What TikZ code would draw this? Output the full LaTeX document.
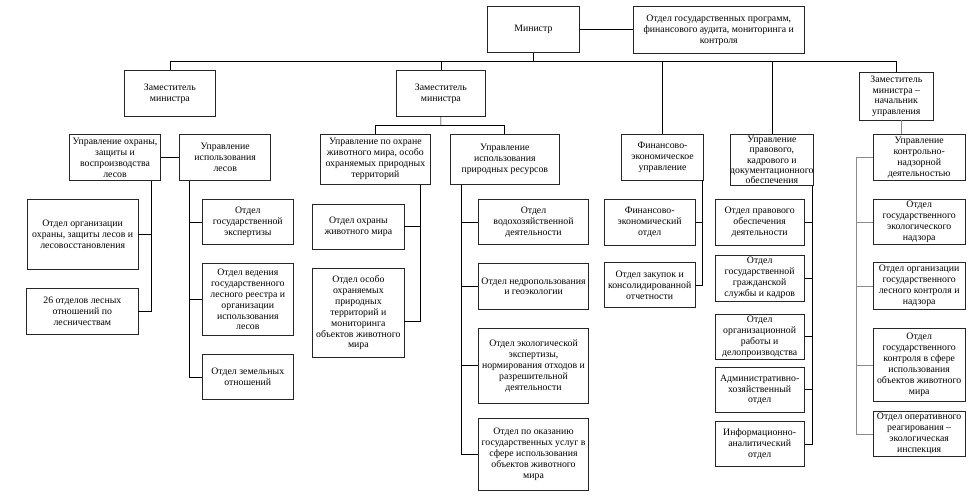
\documentclass[tikz,border=0pt]{standalone}
\usepackage{fontspec}
\setmainfont{Liberation Serif}
\tikzset{
  box/.style={draw=black!85, line width=0.9pt, fill=white, align=center, inner sep=1pt,
    font=\fontsize{9.8}{10.9}\selectfont},
  tightbox/.style={font=\fontsize{9.8}{10.3}\selectfont, inner sep=0pt},
  conn/.style={draw=black, line width=0.7pt},
  gconn/.style={draw=black!45, line width=0.7pt}
}
\newcommand\obox[7][]{%
  \pgfmathsetmacro\obcx{(#3+#5)/2}%
  \pgfmathsetmacro\obcy{(#4+#6)/2}%
  \pgfmathsetmacro\obww{#5-#3}%
  \pgfmathsetmacro\obhh{#6-#4}%
  \node[box, minimum width=\obww pt, minimum height=\obhh pt, #1] (#2) at (\obcx,\obcy) {#7};}
\begin{document}
\begin{tikzpicture}[x=1pt,y=-1pt]
\useasboundingbox[fill=white] (0,0) rectangle (971,496);
% top level
\obox{min}{487.7}{6.7}{579}{52.3}{Министр}
\obox{prog}{633.3}{6.7}{804.3}{53.3}{Отдел государственных программ,\\финансового аудита, мониторинга и\\контроля}
\obox{dep1}{124.7}{70.7}{215}{116}{Заместитель\\министра}
\obox{dep2}{396}{70.7}{485.7}{116}{Заместитель\\министра}
\obox{dep3}{859.3}{72.7}{933.3}{120}{Заместитель\\министра –\\начальник\\управления}
% branch 1
\obox{u11}{69.7}{134.7}{160.3}{180.3}{Управление охраны,\\защиты и\\воспроизводства\\лесов}
\obox{u12}{179.7}{134.7}{270.7}{180.3}{Управление\\использования\\лесов}
\obox{o111}{27.3}{199.3}{138}{269.3}{Отдел организации\\охраны, защиты лесов и\\лесовосстановления}
\obox{o112}{26.7}{288.3}{138}{334}{26 отделов лесных\\отношений по\\лесничествам}
\obox{o121}{202.3}{199.3}{293.3}{244.7}{Отдел\\государственной\\экспертизы}
\obox{o122}{202.3}{263.7}{293.3}{335.3}{Отдел ведения\\государственного\\лесного реестра и\\организации\\использования\\лесов}
\obox{o123}{202.3}{354.3}{293.3}{399.7}{Отдел земельных\\отношений}
% branch 2
\obox{u21}{320.7}{134}{430}{184.3}{Управление по охране\\животного мира, особо\\охраняемых природных\\территорий}
\obox{u22}{450.3}{134}{559.3}{184.3}{Управление\\использования\\природных ресурсов}
\obox{o211}{312.7}{204}{404}{249.3}{Отдел охраны\\животного мира}
\obox{o212}{312.7}{268.3}{404}{357.3}{Отдел особо\\охраняемых\\природных\\территорий и\\мониторинга\\объектов животного\\мира}
\obox{o221}{478.3}{199.3}{588.7}{244.7}{Отдел\\водохозяйственной\\деятельности}
\obox{o222}{478.3}{263.3}{588.7}{309.3}{Отдел недропользования\\и геоэкологии}
\obox{o223}{478.3}{328.3}{588.7}{403.3}{Отдел экологической\\экспертизы,\\нормирования отходов и\\разрешительной\\деятельности}
\obox{o224}{478.3}{418.3}{588.7}{490}{Отдел по оказанию\\государственных услуг в\\сфере использования\\объектов животного\\мира}
% finance
\obox{fin}{621.7}{134}{703.3}{180}{Финансово-\\экономическое\\управление}
\obox{fo1}{604}{199.3}{695.3}{245}{Финансово-\\экономический\\отдел}
\obox{fo2}{604}{262.7}{695.3}{307.7}{Отдел закупок и\\консолидированной\\отчетности}
% law
\obox[tightbox]{law}{730.7}{134}{813}{185.7}{Управление\\правового,\\кадрового и\\документационного\\обеспечения}
\obox{lo1}{715}{199.3}{804.3}{245.7}{Отдел правового\\обеспечения\\деятельности}
\obox{lo2}{715}{255}{804.3}{301}{Отдел\\государственной\\гражданской\\службы и кадров}
\obox{lo3}{715}{314}{804.3}{359}{Отдел\\организационной\\работы и\\делопроизводства}
\obox{lo4}{715}{367.3}{804.3}{412.3}{Административно-\\хозяйственный\\отдел}
\obox{lo5}{715}{421.7}{804.3}{466.7}{Информационно-\\аналитический\\отдел}
% control
\obox{kn}{873.3}{134.7}{965}{180.3}{Управление\\контрольно-\\надзорной\\деятельностью}
\obox{ko1}{873.3}{199.3}{965}{244.7}{Отдел\\государственного\\экологического\\надзора}
\obox{ko2}{873.3}{262.7}{965}{309}{Отдел организации\\государственного\\лесного контроля и\\надзора}
\obox{ko3}{873.3}{328.3}{965}{401.7}{Отдел\\государственного\\контроля в сфере\\использования\\объектов животного\\мира}
\obox{ko4}{873.3}{411}{965}{456.7}{Отдел оперативного\\реагирования –\\экологическая\\инспекция}
% helper coordinates
\coordinate (busL) at (170.7,61.7);
\coordinate (b2) at (440.85,125.7);
\coordinate (t11) at (151.7,0);
\coordinate (t12) at (189,0);
\coordinate (t21) at (420,321.7);
\coordinate (t22) at (461.3,0);
\coordinate (tf) at (702.7,0);
\coordinate (tl) at (812.7,0);
\coordinate (tk) at (856.7,0);
\coordinate (td3) at (901,0);
% connectors top
\draw[conn] (min.east) -- (min.east -| prog.west);
\draw[conn] (dep1.north -| busL) -- (busL) -| (dep3.north);
\draw[conn] (min.south) -- (min.south |- busL);
\draw[conn] (dep2.north) -- (dep2.north |- busL);
\draw[conn] (fin.north) -- (fin.north |- busL);
\draw[conn] (law.north) -- (law.north |- busL);
% branch 1
\draw[conn] (dep1.south -| busL) -- (dep1.south -| busL |- u11.east);
\draw[conn] (u11.east) -- (u12.west);
\draw[conn] (u11.south -| t11) |- (o112.east);
\draw[conn] (o111.east) -- (o111.east -| t11);
\draw[conn] (u12.south -| t12) |- (o123.west);
\draw[conn] (o121.west) -- (o121.west -| t12);
\draw[conn] (o122.west) -- (o122.west -| t12);
% branch 2
\draw[conn] (dep2.south) -- (b2);
\draw[conn] (u21.north) |- (b2) -| (u22.north);
\draw[conn] (u21.south -| t21) -- (t21) -- (t21 -| o212.east);
\draw[conn] (o211.east) -- (o211.east -| t21);
\draw[conn] (u22.south -| t22) |- (o224.west);
\draw[conn] (o221.west) -- (o221.west -| t22);
\draw[conn] (o222.west) -- (o222.west -| t22);
\draw[conn] (o223.west) -- (o223.west -| t22);
% finance
\draw[conn] (fin.south -| tf) |- (fo2.east);
\draw[conn] (fo1.east) -- (fo1.east -| tf);
% law
\draw[conn] (law.south -| tl) |- (lo5.east);
\draw[conn] (lo1.east) -- (lo1.east -| tl);
\draw[conn] (lo2.east) -- (lo2.east -| tl);
\draw[conn] (lo3.east) -- (lo3.east -| tl);
\draw[conn] (lo4.east) -- (lo4.east -| tl);
% control
\draw[gconn] (dep3.south -| td3) -- (kn.north -| td3);
\draw[gconn] (kn.west) -| (tk |- ko4.west) -- (ko4.west);
\draw[gconn] (ko1.west) -- (ko1.west -| tk);
\draw[gconn] (ko2.west) -- (ko2.west -| tk);
\draw[gconn] (ko3.west) -- (ko3.west -| tk);
\end{tikzpicture}
\end{document}
